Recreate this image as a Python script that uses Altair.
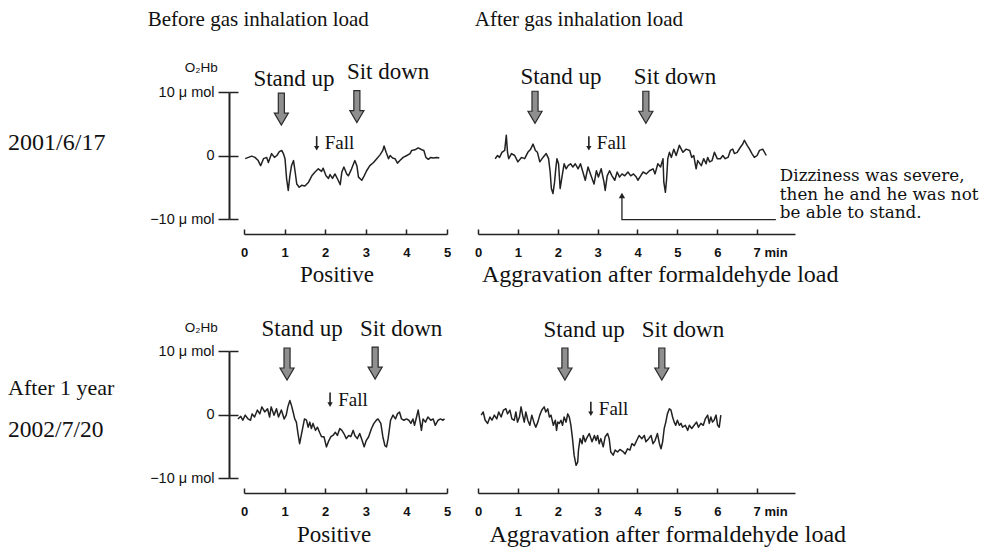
import altair as alt
import pandas as pd

# ---------------- trace data: time (min) vs O2Hb change (umol) ----------------
TL_T = [0.03,0.11,0.19,0.27,0.35,0.41,0.48,0.56,0.60,0.68,0.75,0.81,0.87,0.93,0.97,1.01,1.05,1.09,1.13,1.17,
        1.22,1.26,1.30,1.36,1.42,1.50,1.59,1.67,1.75,1.83,1.91,1.95,2.02,2.08,2.12,2.18,2.24,2.32,2.37,2.41,
        2.46,2.53,2.57,2.65,2.73,2.78,2.82,2.90,2.96,3.02,3.10,3.19,3.27,3.35,3.42,3.45,3.50,3.56,3.60,3.66,
        3.72,3.78,3.84,3.92,4.01,4.09,4.13,4.21,4.29,4.38,4.43,4.48,4.54,4.60,4.66,4.75,4.81]
TL_V = [-0.5,-0.3,-0.1,-0.3,-0.8,-1.6,-0.5,-0.3,-1.1,0.3,-0.3,0.0,0.6,0.8,0.3,-0.5,-3.7,-5.5,-3.2,-1.6,
        -0.8,-2.6,-4.5,-5.0,-4.7,-4.8,-4.2,-3.2,-2.6,-2.1,-2.5,-2.0,-3.2,-3.6,-3.0,-3.6,-2.9,-3.9,-4.6,-2.6,
        -1.8,-2.9,-3.2,-2.1,-0.8,-1.6,-3.4,-3.9,-3.2,-2.4,-1.6,-1.1,-0.5,0.1,0.8,1.5,0.5,-0.5,0.0,-0.4,
        -0.5,-1.2,-0.8,-0.3,0.0,0.3,0.8,0.9,1.2,0.9,0.8,-0.3,-0.6,-0.3,-0.4,-0.3,-0.4]

TR_T = [0.43,0.49,0.54,0.60,0.67,0.71,0.74,0.77,0.84,0.92,1.00,1.09,1.17,1.25,1.32,1.38,1.44,1.49,1.55,1.63,
        1.71,1.77,1.81,1.84,1.88,1.92,1.95,1.98,2.02,2.06,2.11,2.16,2.21,2.26,2.32,2.38,2.44,2.51,2.57,2.63,
        2.69,2.76,2.82,2.91,2.97,3.02,3.09,3.16,3.19,3.24,3.30,3.36,3.43,3.49,3.55,3.61,3.68,3.76,3.83,3.90,
        3.97,4.01,4.08,4.14,4.22,4.30,4.39,4.44,4.51,4.58,4.64,4.66,4.70,4.73,4.76,4.80,4.85,4.91,4.97,5.05,
        5.14,5.22,5.31,5.36,5.41,5.47,5.51,5.60,5.66,5.72,5.76,5.81,5.87,5.93,6.00,6.08,6.14,6.20,6.27,6.33,
        6.39,6.43,6.50,6.58,6.64,6.68,6.75,6.81,6.87,6.93,7.00,7.06,7.14,7.23]
TR_V = [-0.5,0.0,-0.3,0.5,0.8,3.2,0.5,-0.5,0.3,0.0,-1.0,-0.3,-0.5,0.5,1.0,1.8,0.8,0.5,-1.0,-0.3,
        0.3,-0.5,-2.6,-5.2,-6.0,-4.2,-2.1,-0.5,-1.3,-5.2,-3.2,-1.3,-2.1,-1.6,-1.3,-1.8,-1.3,-2.1,-1.3,-2.6,
        -3.9,-1.8,-2.9,-4.5,-2.4,-3.4,-2.1,-4.2,-5.5,-3.2,-2.4,-3.2,-3.9,-2.6,-3.4,-2.9,-3.2,-2.6,-3.2,-2.9,
        -3.4,-3.9,-3.2,-2.6,-2.9,-2.4,-2.1,-2.9,-1.3,-1.8,-0.5,-4.2,-5.8,-3.7,-0.5,0.5,-0.3,1.0,0.0,1.6,
        0.5,1.0,0.8,-0.3,0.0,-2.1,-0.8,-1.6,-0.5,-1.3,-0.3,-1.0,-0.8,0.5,-0.5,-0.5,0.0,-0.5,-0.3,0.8,
        1.0,0.3,0.5,1.3,1.8,2.4,1.6,1.0,0.3,-0.3,0.0,0.8,1.0,0.0]

BL_T = [-0.15,-0.08,-0.03,0.03,0.10,0.16,0.20,0.26,0.33,0.39,0.44,0.51,0.58,0.63,0.67,0.74,0.80,0.85,0.92,0.99,
        1.04,1.08,1.13,1.17,1.21,1.25,1.29,1.33,1.37,1.41,1.45,1.49,1.54,1.58,1.62,1.66,1.70,1.76,1.81,1.86,
        1.91,1.97,2.03,2.09,2.14,2.19,2.25,2.30,2.36,2.41,2.46,2.52,2.58,2.63,2.69,2.73,2.79,2.85,2.91,2.96,
        3.01,3.07,3.14,3.20,3.26,3.30,3.37,3.42,3.47,3.51,3.55,3.61,3.67,3.73,3.78,3.83,3.88,3.94,4.00,4.06,
        4.11,4.16,4.20,4.25,4.29,4.33,4.37,4.41,4.47,4.53,4.60,4.66,4.71,4.78,4.84,4.90,4.94]
BL_V = [-0.7,-0.3,-0.9,-0.1,-0.7,-0.9,0.1,-0.4,0.7,0.1,1.2,0.4,0.9,-0.4,1.2,-0.1,0.9,-0.4,0.7,-0.7,
        -0.1,1.2,2.2,1.4,0.4,-0.7,-1.2,-3.0,-4.6,-3.3,-2.0,-0.7,-0.9,-2.0,-1.2,-2.2,-1.4,-2.5,-2.0,-2.8,
        -3.5,-3.5,-5.1,-4.1,-3.5,-3.3,-2.8,-3.3,-2.2,-2.5,-3.0,-3.8,-3.3,-3.5,-2.5,-3.3,-3.8,-3.0,-4.1,-5.1,
        -4.1,-3.5,-2.2,-1.4,-0.9,-0.7,-1.4,-3.5,-4.9,-5.1,-3.8,-0.9,-0.1,-0.7,0.1,0.4,-0.7,-0.9,-0.7,-0.9,
        -1.4,-0.7,-1.7,-0.4,0.7,-0.9,-2.5,-0.7,-1.2,-0.4,-0.9,-0.7,-1.7,-0.9,-0.7,-0.9,-0.7]

BR_T = [0.08,0.13,0.18,0.24,0.30,0.35,0.41,0.47,0.52,0.58,0.64,0.70,0.74,0.80,0.85,0.91,0.95,0.99,1.04,1.08,
        1.12,1.16,1.20,1.25,1.30,1.35,1.41,1.45,1.50,1.55,1.60,1.66,1.70,1.75,1.79,1.83,1.89,1.94,1.97,2.00,
        2.04,2.08,2.12,2.16,2.21,2.25,2.29,2.33,2.37,2.41,2.46,2.50,2.52,2.56,2.61,2.64,2.69,2.72,2.79,2.86,
        2.92,2.96,3.00,3.04,3.08,3.14,3.19,3.25,3.29,3.33,3.39,3.44,3.50,3.56,3.63,3.69,3.75,3.81,3.86,3.92,
        3.98,4.04,4.11,4.17,4.21,4.28,4.34,4.39,4.44,4.50,4.55,4.59,4.63,4.67,4.71,4.75,4.80,4.84,4.88,4.92,
        4.96,5.00,5.05,5.09,5.13,5.20,5.26,5.30,5.36,5.42,5.48,5.53,5.59,5.65,5.70,5.76,5.80,5.84,5.88,5.92,
        5.97,6.01,6.05,6.09]
BR_V = [-0.1,0.4,-0.9,-1.4,-0.4,-0.9,-0.1,-0.7,0.4,-0.4,0.7,0.9,0.1,0.7,-0.7,-0.9,0.4,-1.2,-0.4,1.2,
        -0.1,-1.2,0.4,-0.9,-1.7,-0.1,-1.4,-2.0,-1.2,-0.1,0.7,1.2,0.4,0.9,-0.4,-0.1,-1.7,-0.9,-2.5,-1.2,
        -1.4,-0.9,-1.7,-0.4,-1.2,0.1,-0.4,-1.7,-3.8,-6.4,-8.0,-7.5,-5.6,-3.8,-4.6,-3.3,-4.3,-3.8,-3.0,-4.3,
        -3.3,-4.1,-3.3,-4.6,-3.8,-5.1,-3.5,-3.0,-3.8,-5.9,-6.4,-5.6,-5.9,-5.5,-5.8,-6.2,-5.4,-5.6,-4.6,-4.9,
        -4.1,-3.3,-3.8,-3.3,-4.3,-3.8,-3.3,-4.6,-4.1,-3.0,-4.6,-5.4,-4.3,-2.2,-1.2,0.1,0.9,0.7,-0.4,-1.2,
        -1.7,-0.9,-1.7,-1.4,-2.0,-1.7,-2.5,-1.7,-2.2,-1.7,-1.2,-2.0,-1.4,-1.7,-0.7,-0.1,-1.4,-0.4,-1.2,-0.9,
        -0.1,-1.7,-2.0,-0.1]

# ---------------- event arrows (time, vertical centre of arrow glyph) ----------------
TL_EV_T = [0.92, 2.78]
TL_EV_V = [7.3, 7.7]
TR_EV_T = [1.43, 4.21]
TR_EV_V = [7.6, 7.6]
BL_EV_T = [1.06, 3.23]
BL_EV_V = [7.95, 8.1]
BR_EV_T = [2.18, 4.61]
BR_EV_V = [7.95, 7.95]

# "Fall" markers: small arrow position (time, centre height)
TL_FALL = (1.79, 1.9)
TR_FALL = (2.78, 1.9)
BL_FALL = (2.12, 2.3)
BR_FALL = (2.83, 0.87)
FALL_TEXT = "Fall"

# ---------------- texts ----------------
TL_LTXT = ["Before gas inhalation load", "2001/6/17"]
TL_LTXT_T = [-2.37, -5.81]
TL_LTXT_V = [21.4, 1.9]
TL_LTXT_FS = [21, 24]
TL_CTXT = ["Stand up", "Sit down", "Positive"]
TL_CTXT_T = [1.23, 3.55, 2.29]
TL_CTXT_V = [12.1, 13.1, -18.8]
TL_CTXT_FS = [23, 23, 23]

TR_LTXT = ["After gas inhalation load"]
TR_LTXT_T = [-0.08]
TR_LTXT_V = [21.4]
TR_LTXT_FS = [21]
TR_CTXT = ["Stand up", "Sit down", "Aggravation after formaldehyde load"]
TR_CTXT_T = [2.08, 4.94, 4.57]
TR_CTXT_V = [12.3, 12.3, -18.8]
TR_CTXT_FS = [23, 23, 24]
TR_NOTE = ["Dizziness was severe,", "then he and he was not", "be able to stand."]
TR_NOTE_T = [7.57, 7.57, 7.57]
TR_NOTE_V = [-3.3, -6.15, -9.05]
TR_NOTE_PATH_T = [7.47, 3.61, 3.61]
TR_NOTE_PATH_V = [-10.1, -10.1, -6.6]
TR_NOTE_TIP_T = [3.61]
TR_NOTE_TIP_V = [-6.3]

BL_LTXT = ["After 1 year", "2002/7/20"]
BL_LTXT_T = [-5.81, -5.81]
BL_LTXT_V = [4.2, -2.4]
BL_LTXT_FS = [22, 23.5]
BL_CTXT = ["Stand up", "Sit down", "Positive"]
BL_CTXT_T = [1.43, 3.87, 2.22]
BL_CTXT_V = [13.5, 13.5, -18.9]
BL_CTXT_FS = [23, 23, 23]

BR_LTXT = []
BR_LTXT_T = []
BR_LTXT_V = []
BR_LTXT_FS = []
BR_CTXT = ["Stand up", "Sit down", "Aggravation after formaldehyde load"]
BR_CTXT_T = [2.66, 5.14, 4.76]
BR_CTXT_V = [13.3, 13.3, -18.9]
BR_CTXT_FS = [23, 23, 24]

O2HB_TXT = ["O\u2082Hb"]
O2HB_T = [-1.05]
TL_O2HB_V = [13.8]
BL_O2HB_V = [13.6]

LEFT_TICKS = [0, 1, 2, 3, 4, 5]
RIGHT_TICKS = [0, 1, 2, 3, 4, 5, 6, 7]
Y_TICKS = [-10, 0, 10]
Y_DOMAIN = [-10, 10]
LEFT_DOMAIN = [0, 5]
RIGHT_DOMAIN = [0, 7.95]

SERIF = "Liberation Serif"
SANS = "Liberation Sans"
INK = "#222222"
PLOT_H = 127
LEFT_W = 203
RIGHT_W = 317
ARROW = "M-0.19,-1 L0.19,-1 L0.19,0.25 L0.44,0.25 L0,1 L-0.44,0.25 L-0.19,0.25 Z"


def x_axis(values, right):
    # axis line 15px under the plot, ticks pointing up, labels underneath the line
    expr = "datum.value == 7 ? '7 min' : datum.label" if right else "datum.label"
    return alt.Axis(orient="top", offset=-(PLOT_H + 15), values=values,
                    domain=True, domainColor=INK, domainWidth=1.5,
                    ticks=True, tickSize=5, tickWidth=1.5, tickColor=INK,
                    labels=True, labelPadding=-23, labelBaseline="middle",
                    labelFont=SANS, labelFontSize=13, labelFontWeight="bold",
                    labelColor="#111111", labelExpr=expr, labelOverlap=False,
                    labelAlign={"condition": {"test": "datum.value === 7", "value": "left"}, "value": "center"},
                    labelOffset={"condition": {"test": "datum.value === 7", "value": -4}, "value": 0},
                    labelFlush=False, grid=False, title=None)


def y_axis():
    return alt.Axis(orient="left", offset=15, values=Y_TICKS, domain=True, domainColor=INK,
                    domainWidth=2, ticks=True, tickSize=11, tickWidth=1.5, tickColor=INK,
                    labelExpr="datum.value == 10 ? '10 \u03bc mol' : datum.value == -10 ? '\u221210 \u03bc mol' : '0\u00a0\u00a0\u00a0'",
                    labelFont=SANS, labelFontSize=14.5, labelPadding=4, labelColor="#111111",
                    labelOverlap=False, grid=False, title=None)


def y_axis_inner():
    # right-hand half of the cross-shaped ticks on the O2Hb axis
    return alt.Axis(orient="left", offset=6, values=Y_TICKS, domain=False, labels=False,
                    ticks=True, tickSize=9, tickWidth=1.5, tickColor=INK,
                    grid=False, title=None)


class Panel:
    """Shared scales and axis definitions for every layer of one panel."""

    def __init__(self, width, xdomain, xticks, left, right):
        self.width = width
        self.left = left
        self.xs = alt.Scale(domain=xdomain, nice=False, zero=False)
        self.ys = alt.Scale(domain=Y_DOMAIN, nice=False, zero=False)
        self.xa = x_axis(xticks, right)

    def X(self):
        return alt.X("t:Q", scale=self.xs, axis=self.xa)

    def Y(self, axis=None):
        return alt.Y("v:Q", scale=self.ys, axis=axis)

    def text(self, texts, ts, vs, fss, align, font=SERIF):
        df = pd.DataFrame({"label": texts, "t": ts, "v": vs, "fs": fss})
        return alt.Chart(df).mark_text(align=align, baseline="middle", font=font, color="#111111").encode(
            x=self.X(), y=self.Y(), text="label:N",
            size=alt.Size("fs:Q", scale=None, legend=None))

    def fall(self, pos):
        ft, fv = pos
        shaft = alt.Chart(pd.DataFrame({"t": [ft], "v": [fv + 1.15], "v2": [fv - 0.6]})).mark_rule(
            color=INK, strokeWidth=1.6).encode(x=self.X(), y=self.Y(), y2="v2:Q")
        head = alt.Chart(pd.DataFrame({"t": [ft], "v": [fv - 0.75]})).mark_point(
            shape="triangle-down", size=28, filled=True, color=INK, opacity=1).encode(
            x=self.X(), y=self.Y())
        word = alt.Chart(pd.DataFrame({"t": [ft + 0.2], "v": [fv], "label": [FALL_TEXT]})).mark_text(
            align="left", baseline="middle", font=SERIF, fontSize=19, color="#111111").encode(
            x=self.X(), y=self.Y(), text="label:N")
        return [shaft, head, word]

    def build(self, t, v, ev_t, ev_v, fall, ltxt, ctxt, extra=()):
        line = alt.Chart(pd.DataFrame({"t": t, "v": v})).mark_line(
            color=INK, strokeWidth=1.5, strokeJoin="round").encode(
            x=self.X(), y=self.Y(y_axis() if self.left else None))
        arrows = alt.Chart(pd.DataFrame({"t": ev_t, "v": ev_v})).mark_point(
            shape=ARROW, size=1024, filled=True, fill="#8f8f8f", stroke="#2b2b2b",
            strokeWidth=1.2, opacity=1).encode(
            x=self.X(), y=self.Y(y_axis_inner() if self.left else None))
        layers = [line, arrows] + self.fall(fall)
        if ltxt[0]:
            layers.append(self.text(*ltxt, "left"))
        layers.append(self.text(*ctxt, "center"))
        for fn in extra:
            layers.append(fn(self))
        return alt.layer(*layers).resolve_scale(y="independent").properties(
            width=self.width, height=PLOT_H)


def o2hb(vv):
    def fn(p):
        return p.text(O2HB_TXT, O2HB_T, vv, [13.5], "center", font=SANS)
    return fn


def note_layers(p):
    path = alt.Chart(pd.DataFrame({"t": TR_NOTE_PATH_T, "v": TR_NOTE_PATH_V,
                                   "o": list(range(len(TR_NOTE_PATH_T)))})).mark_line(
        color=INK, strokeWidth=1.3).encode(x=p.X(), y=p.Y(), order="o:Q")
    tip = alt.Chart(pd.DataFrame({"t": TR_NOTE_TIP_T, "v": TR_NOTE_TIP_V})).mark_point(
        shape="triangle-up", size=40, filled=True, color=INK, opacity=1).encode(x=p.X(), y=p.Y())
    note = alt.Chart(pd.DataFrame({"label": TR_NOTE, "t": TR_NOTE_T, "v": TR_NOTE_V})).mark_text(
        align="left", baseline="middle", font="DejaVu Serif", fontSize=16.8, color="#111111").encode(
        x=p.X(), y=p.Y(), text="label:N")
    return alt.layer(path, tip, note)


TL = Panel(LEFT_W, LEFT_DOMAIN, LEFT_TICKS, True, False).build(
    TL_T, TL_V, TL_EV_T, TL_EV_V, TL_FALL,
    (TL_LTXT, TL_LTXT_T, TL_LTXT_V, TL_LTXT_FS), (TL_CTXT, TL_CTXT_T, TL_CTXT_V, TL_CTXT_FS),
    extra=(o2hb(TL_O2HB_V),))
TR = Panel(RIGHT_W, RIGHT_DOMAIN, RIGHT_TICKS, False, True).build(
    TR_T, TR_V, TR_EV_T, TR_EV_V, TR_FALL,
    (TR_LTXT, TR_LTXT_T, TR_LTXT_V, TR_LTXT_FS), (TR_CTXT, TR_CTXT_T, TR_CTXT_V, TR_CTXT_FS),
    extra=(note_layers,))
BL = Panel(LEFT_W, LEFT_DOMAIN, LEFT_TICKS, True, False).build(
    BL_T, BL_V, BL_EV_T, BL_EV_V, BL_FALL,
    (BL_LTXT, BL_LTXT_T, BL_LTXT_V, BL_LTXT_FS), (BL_CTXT, BL_CTXT_T, BL_CTXT_V, BL_CTXT_FS),
    extra=(o2hb(BL_O2HB_V),))
BR = Panel(RIGHT_W, RIGHT_DOMAIN, RIGHT_TICKS, False, True).build(
    BR_T, BR_V, BR_EV_T, BR_EV_V, BR_FALL,
    (BR_LTXT, BR_LTXT_T, BR_LTXT_V, BR_LTXT_FS), (BR_CTXT, BR_CTXT_T, BR_CTXT_V, BR_CTXT_FS))

chart = alt.concat(TL, TR, BL, BR, columns=2, spacing={"row": 132, "column": 31},
                   bounds="flush").properties(padding=0, background="white").configure_view(stroke=None)

chart.save("out.html", embed_options={"renderer": "svg", "actions": False})
